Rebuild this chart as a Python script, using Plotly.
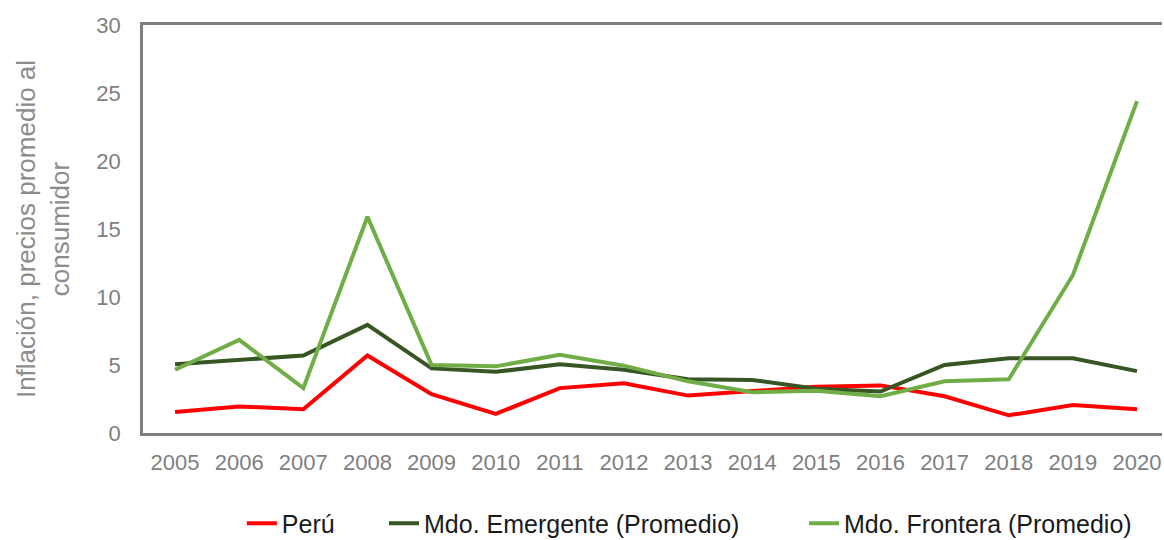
import plotly.graph_objects as go

years = [str(y) for y in range(2005, 2021)]
peru = [1.55, 1.95, 1.75, 5.7, 2.85, 1.4, 3.3, 3.65, 2.75, 3.1, 3.4, 3.5, 2.7, 1.3, 2.05, 1.75]
emergente = [5.05, 5.4, 5.7, 7.95, 4.75, 4.5, 5.05, 4.65, 3.95, 3.9, 3.25, 3.05, 5.0, 5.5, 5.5, 4.55]
frontera = [4.65, 6.85, 3.3, 15.9, 5.0, 4.9, 5.75, 4.95, 3.8, 3.0, 3.1, 2.7, 3.8, 3.95, 11.6, 24.4]

names = ["Perú", "Mdo. Emergente (Promedio)", "Mdo. Frontera (Promedio)"]
colors = ["#FF0000", "#375623", "#70AD47"]
legends = ["legend", "legend2", "legend3"]
legend_x = [0.097, 0.2365, 0.6487]

fig = go.Figure()
for name, vals, col, lg in zip(names, [peru, emergente, frontera], colors, legends):
    fig.add_trace(go.Scatter(x=years, y=vals, name=name, mode="lines",
                             line=dict(color=col, width=4), legend=lg))

legend_font = dict(size=25, color="#1a1a1a", family="Liberation Sans, Arial, sans-serif")
legend_common = dict(orientation="h", xanchor="left", y=-0.222, yanchor="middle",
                     font=legend_font, bgcolor="rgba(0,0,0,0)", borderwidth=0)

fig.update_layout(
    width=1164, height=548,
    margin=dict(l=143, r=2, t=25, b=106),
    paper_bgcolor="white", plot_bgcolor="white",
    font=dict(family="Liberation Sans, Arial, sans-serif", color="#7f7f7f", size=22),
    showlegend=True,
    legend=dict(x=legend_x[0], **legend_common),
    legend2=dict(x=legend_x[1], **legend_common),
    legend3=dict(x=legend_x[2], **legend_common),
    xaxis=dict(type="category", showline=True, linecolor="#808080", linewidth=2.5,
               mirror=True, showgrid=False, ticks="", tickfont=dict(size=22, color="#7f7f7f"),
               ticklabelstandoff=8, range=[-0.5, 15.39]),
    yaxis=dict(range=[0, 30], dtick=5, showline=True, linecolor="#808080", linewidth=2.5,
               mirror=False, showgrid=False, ticks="", zeroline=False,
               tickfont=dict(size=22, color="#7f7f7f"), ticklabelstandoff=15,
               title=dict(text="Inflación, precios promedio al<br>consumidor",
                          font=dict(size=26, color="#8c8c8c"), standoff=20)),
)

fig.write_html("out.html", config={"displayModeBar": False},
               post_script="document.body.style.margin='0px';document.body.style.overflow='hidden';")
